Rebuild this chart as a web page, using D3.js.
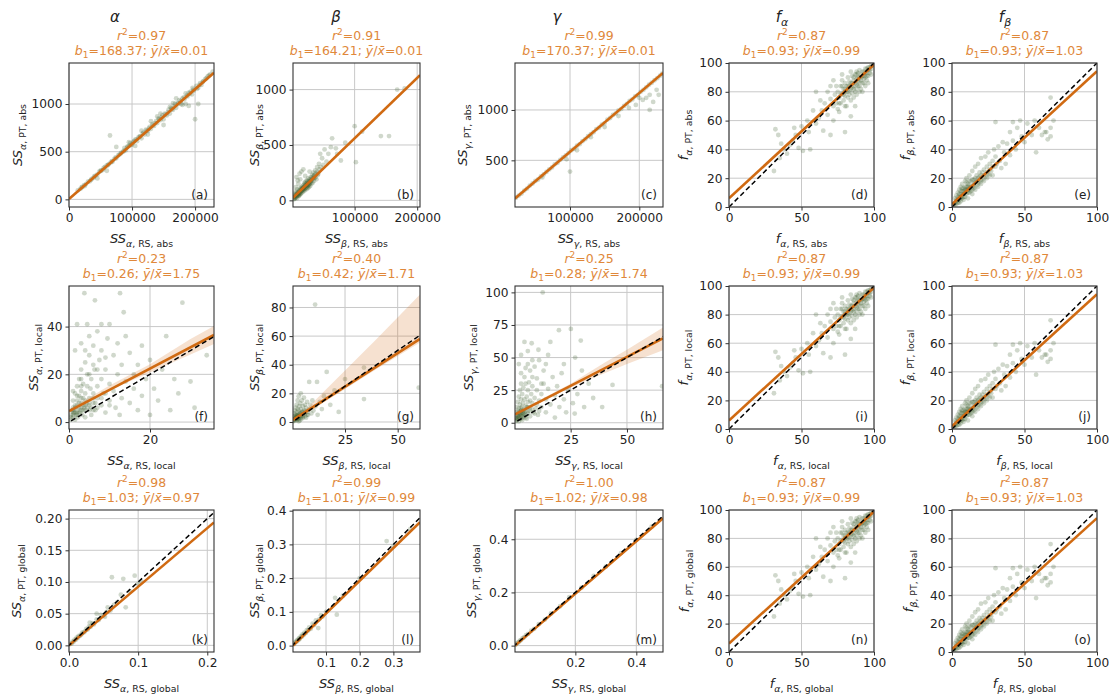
<!DOCTYPE html>
<html>
<head>
<meta charset="utf-8">
<script src="https://cdn.jsdelivr.net/npm/d3@7"></script>
<style>
  body { margin: 0; background: #fff; }
  text { font-family: "DejaVu Sans", sans-serif; }
</style>
</head>
<body>
<div id="chart"></div>
<script>
// ---- data ----
const ptsAlphaAbs = [[14000,95],[18000,110],[21000,130],[24000,150],[27000,160],[30000,185],[33000,190],[36000,215],[39000,225],[42000,250],[45000,262],[48000,290],[51000,300],[54000,310],[57000,340],[60000,355],[63000,370],[65000,670],[66000,385],[69000,395],[72000,425],[75000,430],[78000,460],[80000,470],[83000,490],[86000,500],[88000,540],[90000,515],[92000,545],[95000,560],[97000,590],[100000,575],[102000,600],[105000,625],[108000,610],[110000,650],[113000,660],[115000,640],[118000,700],[120000,680],[122000,730],[125000,715],[128000,760],[130000,740],[132000,790],[135000,770],[138000,820],[140000,800],[142000,850],[145000,830],[148000,880],[150000,840],[152000,900],[155000,880],[158000,940],[160000,900],[162000,960],[165000,940],[168000,1000],[170000,960],[172000,1010],[175000,1040],[178000,1000],[180000,1060],[183000,1050],[185000,1110],[188000,1080],[190000,1120],[193000,1130],[196000,1170],[198000,1140],[200000,840],[202000,1190],[205000,1170],[208000,1220],[210000,1200],[213000,1240],[216000,1260],[220000,1290],[224000,1310],[228000,1340],[75000,550],[130000,820],[170000,1060],[190000,980],[205000,1000],[150000,780],[60000,300],[45000,220],[95000,600],[115000,720],[140000,870],[160000,970],[180000,990],
  [20000,125],[25000,140],[35000,205],[40000,240],[50000,300],[55000,330],[62000,360],[68000,400],[74000,440],[82000,480],[87000,510],[93000,555],[98000,570],[103000,610],[107000,630],[112000,660],[117000,690],[123000,720],[127000,745],[133000,775],[137000,800],[143000,840],[147000,860],[153000,890],[157000,915],[163000,945],[167000,975],[173000,1000],[177000,1030],[182000,1070],[187000,1090],[192000,1110],[197000,1150],[203000,1160],[207000,1200],[212000,1230],[218000,1270],[222000,1300],[185000,1000],[195000,1100],[165000,1010],[145000,900],[125000,680],[105000,560]];
const ptsBetaAbs = [[3000,10],[4000,30],[5000,20],[6000,45],[7000,35],[8000,60],[8000,20],[9000,50],[10000,75],[10000,40],[11000,60],[12000,90],[12000,50],[13000,70],[14000,100],[14000,60],[15000,85],[15000,120],[16000,70],[16000,105],[17000,130],[17000,90],[18000,80],[18000,115],[19000,140],[19000,100],[20000,120],[20000,160],[20000,90],[21000,130],[22000,110],[22000,170],[23000,140],[23000,100],[24000,180],[24000,130],[25000,150],[25000,110],[26000,200],[26000,140],[27000,160],[27000,120],[28000,190],[28000,150],[29000,130],[30000,210],[30000,170],[31000,150],[32000,230],[32000,190],[33000,160],[34000,250],[34000,200],[35000,175],[36000,230],[37000,270],[38000,210],[39000,190],[40000,260],[40000,300],[42000,240],[43000,330],[44000,280],[45000,420],[46000,300],[48000,380],[50000,320],[52000,460],[55000,350],[58000,420],[62000,480],[64000,560],[70000,470],[72000,420],[78000,360],[85000,520],[100000,670],[102000,345],[112000,620],[142000,580],[155000,580],[168000,1000],[180000,1010],[7000,210],[9000,180],[12000,240],[15000,260],[18000,280],[6000,120],[10000,150],[13000,190],[21000,220],[28000,260],
  [4000,15],[5000,40],[6000,25],[7000,55],[8000,40],[9000,70],[10000,55],[11000,85],[11000,40],[12000,70],[13000,55],[13000,110],[14000,80],[15000,100],[16000,90],[17000,110],[18000,100],[19000,120],[20000,105],[21000,150],[22000,140],[23000,120],[24000,160],[25000,130],[26000,170],[27000,140],[28000,170],[29000,160],[30000,190],[31000,180],[33000,210],[35000,220],[36000,200],[38000,240],[41000,230],[5000,60],[6000,80],[8000,100],[4000,50],[3000,25]];
const ptsGammaAbs = [[22000,130],[26000,150],[30000,170],[34000,200],[38000,220],[42000,250],[46000,270],[50000,295],[54000,310],[58000,340],[62000,360],[66000,385],[70000,410],[74000,430],[78000,460],[82000,475],[86000,505],[90000,530],[94000,550],[98000,575],[100000,389],[102000,600],[106000,615],[110000,645],[114000,660],[118000,690],[122000,710],[126000,740],[130000,760],[134000,780],[138000,810],[142000,825],[146000,855],[150000,870],[154000,905],[158000,920],[162000,950],[166000,965],[170000,995],[174000,1010],[178000,1040],[182000,1060],[186000,1090],[190000,1105],[194000,1135],[198000,1150],[202000,1180],[206000,1200],[210000,1225],[214000,1250],[218000,1270],[222000,1295],[226000,1315],[230000,1340],[233000,1360],[195000,1050],[205000,1100],[210000,1120],[215000,1150],[220000,1080],[225000,1200],[228000,1150],[215000,1000],[200000,1120],[185000,1020],[170000,940],[150000,830],[130000,730],[110000,600],[95000,510],[60000,330]];
const ptsFAlpha = [[32,54],[34,50],[36,44],[38,40],[40,37],[42,43],[44,46],[46,50],[48,41],[51,39],[31,25],[35,34],[45,55],[50,56],[55,52],[58,67],[60,58],[62,62],[64,67],[65,53],[66,72],[68,64],[70,50],[70,75],[72,60],[80,52],[84,63],[72,70],[73,78],[74,72],[75,80],[75,68],[76,76],[77,84],[77,72],[78,79],[78,88],[79,74],[79,82],[80,77],[80,86],[81,80],[81,70],[82,84],[82,90],[83,78],[83,87],[84,82],[84,74],[85,86],[85,91],[85,79],[86,84],[86,88],[87,80],[87,92],[88,85],[88,89],[88,78],[89,87],[89,93],[90,84],[90,90],[90,95],[91,88],[91,82],[92,91],[92,86],[93,94],[93,89],[94,90],[94,96],[95,93],[95,88],[96,95],[96,91],[97,97],[97,93],[98,96],[99,98],[86,76],[80,70],[76,66],[74,84],[78,92],[82,76],[84,94],[87,70],[92,80],[94,84],[96,86],[98,92],[68,80],[70,84],[72,88],[63,74],[60,80],[54,60],[56,40],[83,84],[86,90],[89,84],[91,92],[93,91],[95,96],[88,94],[80,82],
  [80,80],[82,80],[84,86],[86,82],[88,82],[88,92],[90,87],[90,80],[91,90],[92,94],[93,86],[94,93],[95,91],[96,97],[97,95],[98,98],[85,83],[83,81],[81,84],[79,78],[77,78],[76,72],[78,84],[87,86],[89,90]];
const ptsFBeta = [[1,1],[2,3],[2,6],[3,2],[3,8],[4,5],[4,10],[5,3],[5,7],[5,12],[6,4],[6,9],[6,14],[7,6],[7,11],[7,16],[8,5],[8,9],[8,13],[9,7],[9,12],[9,18],[10,9],[10,14],[10,20],[11,6],[11,12],[11,16],[12,10],[12,15],[12,22],[13,11],[13,18],[14,9],[14,14],[14,25],[15,13],[15,19],[16,12],[16,17],[16,28],[17,15],[17,22],[18,14],[18,20],[18,30],[19,17],[19,24],[20,16],[20,22],[20,34],[21,19],[22,18],[22,26],[23,21],[23,35],[24,20],[24,28],[25,23],[25,38],[26,22],[26,30],[27,25],[28,32],[28,22],[29,40],[30,28],[30,35],[31,30],[32,42],[33,32],[34,27],[35,45],[36,38],[37,30],[38,44],[40,36],[40,52],[42,46],[44,40],[45,55],[47,60],[48,49],[50,45],[52,58],[55,50],[57,60],[60,55],[62,50],[65,52],[66,47],[70,60],[68,55],[58,38],[30,59],[42,59],[64,52],[68,49],[68,76],[3,4],[4,3],[6,7],[8,7],[10,11],[12,12],[15,16],
  [2,2],[3,5],[4,7],[5,5],[5,9],[6,6],[6,11],[7,8],[7,13],[8,11],[9,10],[9,14],[10,12],[10,17],[11,10],[11,14],[12,13],[12,18],[13,14],[14,12],[14,19],[15,15],[16,20],[17,18],[18,17],[19,21],[20,19],[21,24],[22,22],[24,24],[26,26],[28,28]];
const ptsAlphaLocal = [[0.5,1],[0.5,3],[0.8,5],[1,2],[1,6],[1,9],[1.2,4],[1.5,1],[1.5,7],[1.5,12],[1.8,3],[2,5],[2,9],[2,15],[2.2,2],[2.5,6],[2.5,11],[2.5,18],[2.8,4],[3,8],[3,13],[3,22],[3.3,3],[3.5,10],[3.5,16],[3.8,6],[4,12],[4,25],[4,2],[4.3,8],[4.5,15],[4.5,20],[5,5],[5,10],[5,28],[5.3,14],[5.5,3],[5.5,18],[6,8],[6,12],[6,32],[6.3,22],[6.5,5],[7,15],[7,10],[7,38],[7.5,26],[8,7],[8,18],[8,30],[8.5,12],[9,4],[9,22],[9.5,35],[10,9],[10,16],[10,41],[11,13],[11,28],[11.5,6],[12,20],[12,33],[12.5,3],[13,10],[13,24],[13.5,46],[14,17],[14,36],[15,8],[15,29],[16,14],[16,20],[17,24],[17,5],[18,11],[18,32],[19,18],[20,3],[20,26],[21,14],[22,9],[23,22],[24,36],[25,5],[26,18],[27,12],[28,50],[30,17],[31,6],[34,28],[3.8,54],[12.6,54],[6.4,51],[2,41],[4.5,41],[8,41],[5,36],[1.5,30],[3,33],[1,4],[2,7],[3,5],[4,9],[5,7],[6,10],[2,11],[3,15],[1,13],
  [0.5,2],[1,3],[1,5],[1.5,4],[1.5,6],[2,3],[2,4],[2.5,4],[2.5,8],[3,6],[3,10],[3.5,5],[3.5,7],[4,5],[4,7],[4.5,6],[5,8],[5.5,6],[6,5],[6.5,8],[7,6],[8,10],[9,12],[10,7],[3,18],[5,20],[7,22],[9,27],[4,30],[6,24]];
const ptsBetaLocal = [[0.5,0.5],[0.6,2],[0.8,4],[1,1],[1,3],[1,6],[1.2,8],[1.5,2],[1.5,5],[1.5,10],[1.8,3],[2,1],[2,7],[2,12],[2.3,4],[2.5,2],[2.5,9],[2.5,15],[2.8,5],[3,3],[3,8],[3,18],[3.3,11],[3.5,1],[3.5,6],[3.8,13],[4,4],[4,9],[4,20],[4.3,2],[4.5,7],[4.5,15],[5,5],[5,11],[5,3],[5.5,8],[5.5,17],[6,6],[6,12],[6.5,3],[6.5,10],[7,7],[7,14],[7.5,5],[8,9],[8,28],[8.5,12],[9,6],[9.5,15],[10,8],[10.8,82],[11,11],[11.7,28],[12,5],[13,14],[14,9],[15,18],[16.3,35],[18,12],[20,22],[22,7],[34,38],[34,16],[60,24],[25,30],[3,0.5],[0.3,1],[1,2],[2,3],[3,4],[4,6],[2,5],
  [1,2],[1.5,3],[2,2],[2,4],[2.5,3],[3,2],[3,5],[3.5,4],[4,3],[4,6],[5,4],[5,7],[6,4],[6,8],[7,5]];
const ptsGammaLocal = [[0.5,1],[0.5,4],[0.8,8],[1,2],[1,6],[1,12],[1.3,3],[1.5,9],[1.5,16],[1.8,5],[2,1],[2,11],[2,20],[2.3,7],[2.5,3],[2.5,14],[2.5,25],[2.8,9],[3,5],[3,18],[3,30],[3.3,12],[3.5,2],[3.5,8],[3.5,22],[3.8,15],[4,4],[4,27],[4.3,10],[4.5,18],[4.5,35],[5,6],[5,13],[5,42],[5.5,20],[5.5,3],[6,9],[6,25],[6,16],[6.5,31],[7,12],[7,5],[7,40],[7.5,22],[8,15],[8,28],[8.5,8],[9,19],[9,43],[9.5,11],[10,25],[10,34],[10.5,6],[11,17],[11,48],[12,22],[12,12],[12.6,100],[13,30],[13,40],[14,8],[14,18],[15,26],[15,52],[16,14],[17,35],[18,21],[18,4],[19,28],[19.8,71],[20,12],[21,38],[22,18],[23,8],[24,25],[25.1,72],[26,15],[26.8,7],[28,22],[29.5,63],[30,40],[31,12],[33,30],[35,19],[39,12],[43.6,29],[4.5,62],[7.7,61],[10.7,56],[2,45],[3,52],[6,55],[8,48],[14,45],[16,62],[22,45],[27,50],[65.6,28],[1,4],[2,6],[3,9],[4,7],
  [1,3],[1.5,5],[2,4],[2,8],[2.5,6],[3,3],[3,7],[3,11],[3.5,5],[4,6],[4,9],[4.5,7],[5,4],[5,9],[5.5,12],[6,7],[6,12],[7,9],[7,17],[8,10],[9,7],[10,14],[11,9],[3,38],[5,30],[8,35],[6,45],[12,30]];
const ptsAlphaGlobal = [[0.002,0.002],[0.004,0.003],[0.005,0.006],[0.007,0.006],[0.008,0.009],[0.01,0.009],[0.011,0.012],[0.013,0.012],[0.014,0.015],[0.016,0.015],[0.018,0.017],[0.019,0.02],[0.021,0.02],[0.023,0.022],[0.025,0.026],[0.027,0.025],[0.029,0.03],[0.031,0.029],[0.034,0.035],[0.036,0.033],[0.04,0.041],[0.043,0.04],[0.046,0.048],[0.05,0.047],[0.0545,0.0527],[0.056,0.06],[0.06,0.055],[0.062,0.1075],[0.065,0.064],[0.07,0.068],[0.075,0.08],[0.0785,0.105],[0.082,0.06],[0.088,0.085],[0.095,0.11],[0.1,0.097],[0.105,0.1],[0.04,0.05],[0.052,0.045],[0.03,0.036]];
const ptsBetaGlobal = [[0.005,0.005],[0.008,0.009],[0.01,0.012],[0.013,0.012],[0.015,0.017],[0.018,0.016],[0.02,0.022],[0.022,0.02],[0.025,0.027],[0.028,0.026],[0.03,0.033],[0.033,0.031],[0.036,0.038],[0.04,0.037],[0.043,0.046],[0.047,0.045],[0.05,0.054],[0.055,0.05],[0.06,0.065],[0.065,0.061],[0.07,0.075],[0.077,0.052],[0.08,0.078],[0.085,0.09],[0.09,0.086],[0.1,0.1],[0.127,0.1415],[0.132,0.0917],[0.15,0.148],[0.2,0.2],[0.28,0.31],[0.3,0.295],[0.35,0.345]];
const ptsGammaGlobal = [[0.003,0.003],[0.006,0.006],[0.01,0.01],[0.014,0.013],[0.018,0.019],[0.022,0.021],[0.027,0.028],[0.032,0.031],[0.038,0.039],[0.045,0.044],[0.055,0.056],[0.065,0.063],[0.08,0.081],[0.1,0.098],[0.12,0.121],[0.15,0.148],[0.18,0.182],[0.22,0.218],[0.26,0.262],[0.3,0.297],[0.35,0.348],[0.4,0.398],[0.45,0.447]];

// regression line end points, per panel (a)..(o)
const fitLines = [
  [[0, 5], [230000, 1327]],
  [[1500, 24], [204500, 1131]],
  [[20600, 121], [234200, 1368]],
  [[0, 6], [100, 99]],
  [[0, 1.9], [100, 94.3]],
  [[0, 4.6], [35.8, 36.5]],
  [[0.3, 1.5], [60.6, 58]],
  [[0.3, 6.4], [66, 64.7]],
  [[0, 6], [100, 99]],
  [[0, 1.9], [100, 94.3]],
  [[0, 0], [0.2097, 0.194]],
  [[0.002, 0], [0.379, 0.366]],
  [[0.002, 0], [0.4875, 0.479]],
  [[0, 6], [100, 99]],
  [[0, 1.9], [100, 94.3]]
];
// confidence bands [x, lower, upper] where visible
const bandF = [[0, 3.8, 5.4], [5, 8.9, 10.3], [10, 13.3, 15.3], [20, 20.8, 24.2], [30, 28.3, 34.8], [35.8, 32.7, 40.2]];
const bandG = [[0.3, 0.8, 2.2], [5, 4.5, 7], [10, 9, 14], [25, 23, 36], [40, 37, 58], [60.6, 55.5, 89]];
const bandH = [[0.3, 5.6, 7.2], [10, 14.3, 16.3], [25, 27, 30], [40, 38, 46], [50, 45, 56], [66, 55.7, 73.1]];

const r2Vals = ["0.97", "0.91", "0.99", "0.87", "0.87", "0.23", "0.40", "0.25", "0.87", "0.87", "0.98", "0.99", "1.00", "0.87", "0.87"];
const b1Vals = ["168.37", "164.21", "170.37", "0.93", "0.93", "0.26", "0.42", "0.28", "0.93", "0.93", "1.03", "1.01", "1.02", "0.93", "0.93"];
const ratioVals = ["0.01", "0.01", "0.01", "0.99", "1.03", "1.75", "1.71", "1.74", "0.99", "1.03", "0.97", "0.99", "0.98", "0.99", "1.03"];
const panelLetters = ["a", "b", "c", "d", "e", "f", "g", "h", "i", "j", "k", "l", "m", "n", "o"];

const colHeads = [["α", ""], ["β", ""], ["γ", ""], ["f", "α"], ["f", "β"]];
const colSymbols = [["SS", "α"], ["SS", "β"], ["SS", "γ"], ["f", "α"], ["f", "β"]];
const rowKinds = ["abs", "local", "global"];

// ---- layout ----
const svgWidth = 1114;
const svgHeight = 697;
const colX = [[69, 214], [293, 420], [515, 663], [729, 874], [952, 1097]];
const rowY = [[63, 207], [286, 429], [510, 652]];
const yLabelGap = [[47, 34, 48, 41, 42], [31, 34, 42, 41, 42], [48, 34, 39, 40, 39]];
const headX = [115, 336, 557, 782, 1005];

const titleColor = "#e0883a";
const lineColor = "#d06a12";
const pointColor = "#3a5e28";

const fPanel = {xd: [0, 100], yd: [0, 100], xt: [0, 50, 100], yt: [0, 20, 40, 60, 80, 100], xf: "d", yf: "d", pts: null};

const panels = [
  {xd: [0, 230000], yd: [-80, 1430], xt: [0, 100000, 200000], yt: [0, 500, 1000], xf: "d", yf: "d", pts: ptsAlphaAbs, diag: false},
  {xd: [1500, 204500], yd: [-60, 1240], xt: [100000, 200000], yt: [0, 500, 1000], xf: "d", yf: "d", pts: ptsBetaAbs, diag: false},
  {xd: [20600, 234200], yd: [37, 1466], xt: [100000, 200000], yt: [500, 1000], xf: "d", yf: "d", pts: ptsGammaAbs, diag: false},
  {...fPanel, pts: ptsFAlpha, diag: true},
  {...fPanel, pts: ptsFBeta, diag: true},
  {xd: [0, 35.8], yd: [-2.9, 57], xt: [0, 20], yt: [0, 20, 40], xf: "d", yf: "d", pts: ptsAlphaLocal, diag: true, band: bandF},
  {xd: [0.3, 60.6], yd: [-4.9, 95], xt: [25, 50], yt: [0, 20, 40, 60, 80], xf: "d", yf: "d", pts: ptsBetaLocal, diag: true, band: bandG},
  {xd: [0.3, 66], yd: [-4.8, 104.9], xt: [25, 50], yt: [0, 25, 50, 75, 100], xf: "d", yf: "d", pts: ptsGammaLocal, diag: true, band: bandH},
  {...fPanel, pts: ptsFAlpha, diag: true},
  {...fPanel, pts: ptsFBeta, diag: true},
  {xd: [0, 0.2097], yd: [-0.0105, 0.2136], xt: [0, 0.1, 0.2], yt: [0, 0.05, 0.1, 0.15, 0.2], xf: ".1f", yf: ".2f", pts: ptsAlphaGlobal, diag: true},
  {xd: [0.002, 0.379], yd: [-0.019, 0.402], xt: [0.1, 0.2, 0.3], yt: [0, 0.1, 0.2, 0.3, 0.4], xf: ".1f", yf: ".1f", pts: ptsBetaGlobal, diag: true},
  {xd: [0.002, 0.4875], yd: [-0.024, 0.51], xt: [0.2, 0.4], yt: [0, 0.2, 0.4], xf: ".1f", yf: ".1f", pts: ptsGammaGlobal, diag: true},
  {...fPanel, pts: ptsFAlpha, diag: true},
  {...fPanel, pts: ptsFBeta, diag: true}
];

const svg = d3.select("#chart").append("svg")
  .attr("width", svgWidth)
  .attr("height", svgHeight);

// math style label: base (italic), subscript symbol (italic) + ", XX, kind"
function mathLabel(textSel, base, sym, rest, size) {
  const sub = size * 0.72;
  textSel.attr("font-size", size).attr("fill", "#222");
  textSel.append("tspan").attr("font-style", "italic").text(base);
  textSel.append("tspan").attr("font-style", "italic").attr("font-size", sub).attr("dy", size * 0.28).text(sym);
  textSel.append("tspan").attr("font-size", sub).text(rest);
}

// column headers
colHeads.forEach((h, i) => {
  const t = svg.append("text")
    .attr("x", headX[i]).attr("y", 22)
    .attr("text-anchor", "middle")
    .attr("font-size", 15).attr("fill", "#222");
  t.append("tspan").attr("font-style", "italic").text(h[0]);
  if (h[1]) t.append("tspan").attr("font-style", "italic").attr("font-size", 11).attr("dy", 4).text(h[1]);
});

panels.forEach((p, i) => {
  const row = Math.floor(i / 5);
  const col = i % 5;
  const [x0, x1] = colX[col];
  const [y0, y1] = rowY[row];
  const w = x1 - x0, h = y1 - y0;

  const x = d3.scaleLinear().domain(p.xd).range([0, w]);
  const y = d3.scaleLinear().domain(p.yd).range([h, 0]);

  const g = svg.append("g").attr("transform", `translate(${x0}, ${y0})`);
  const clipId = "clip" + i;
  g.append("clipPath").attr("id", clipId)
    .append("rect").attr("width", w).attr("height", h);

  // grid
  g.append("g").selectAll("line").data(p.xt).join("line")
    .attr("x1", d => x(d)).attr("x2", d => x(d))
    .attr("y1", 0).attr("y2", h)
    .attr("stroke", "#c8c8c8").attr("stroke-width", 1);
  g.append("g").selectAll("line").data(p.yt).join("line")
    .attr("y1", d => y(d)).attr("y2", d => y(d))
    .attr("x1", 0).attr("x2", w)
    .attr("stroke", "#c8c8c8").attr("stroke-width", 1);

  const plot = g.append("g").attr("clip-path", `url(#${clipId})`);

  // scatter
  plot.append("g").selectAll("circle").data(p.pts).join("circle")
    .attr("cx", d => x(d[0]))
    .attr("cy", d => y(d[1]))
    .attr("r", 2.4)
    .attr("fill", pointColor)
    .attr("fill-opacity", 0.24);

  // confidence band
  if (p.band) {
    const area = d3.area()
      .x(d => x(d[0]))
      .y0(d => y(d[1]))
      .y1(d => y(d[2]));
    plot.append("path").datum(p.band)
      .attr("d", area)
      .attr("fill", lineColor)
      .attr("fill-opacity", 0.2);
  }

  // regression line
  const line = d3.line().x(d => x(d[0])).y(d => y(d[1]));
  plot.append("path").datum(fitLines[i])
    .attr("d", line)
    .attr("fill", "none")
    .attr("stroke", lineColor)
    .attr("stroke-width", 2.6);

  // 1:1 line
  if (p.diag) {
    const lo = Math.min(p.xd[0], p.yd[0]);
    const hi = Math.max(p.xd[1], p.yd[1]);
    plot.append("path").datum([[lo, lo], [hi, hi]])
      .attr("d", line)
      .attr("fill", "none")
      .attr("stroke", "#000")
      .attr("stroke-width", 1.5)
      .attr("stroke-dasharray", "5,3");
  }

  // frame
  g.append("rect").attr("width", w).attr("height", h)
    .attr("fill", "none").attr("stroke", "#333").attr("stroke-width", 1.1);

  // axes
  const xAxis = g.append("g")
    .attr("transform", `translate(0, ${h})`)
    .call(d3.axisBottom(x).tickValues(p.xt).tickFormat(d3.format(p.xf)).tickSize(3.5).tickPadding(3));
  const yAxis = g.append("g")
    .call(d3.axisLeft(y).tickValues(p.yt).tickFormat(d3.format(p.yf)).tickSize(3.5).tickPadding(3));
  [xAxis, yAxis].forEach(a => {
    a.select(".domain").remove();
    a.selectAll("line").attr("stroke", "#333");
    a.selectAll("text")
      .attr("font-family", "DejaVu Sans, sans-serif")
      .attr("font-size", 12.2)
      .attr("fill", "#222");
  });

  // panel letter
  g.append("text")
    .attr("x", w - 6).attr("y", h - 8)
    .attr("text-anchor", "end")
    .attr("font-size", 12).attr("fill", "#222")
    .text(`(${panelLetters[i]})`);

  // titles
  const t1 = g.append("text")
    .attr("x", w / 2).attr("y", -23)
    .attr("text-anchor", "middle")
    .attr("font-size", 12.5).attr("fill", titleColor);
  t1.append("tspan").attr("font-style", "italic").text("r");
  t1.append("tspan").attr("font-size", 9).attr("dy", -5).text("2");
  t1.append("tspan").attr("dy", 5).text("=" + r2Vals[i]);

  const t2 = g.append("text")
    .attr("x", w / 2).attr("y", -8)
    .attr("text-anchor", "middle")
    .attr("font-size", 12.5).attr("fill", titleColor);
  t2.append("tspan").attr("font-style", "italic").text("b");
  t2.append("tspan").attr("font-size", 9).attr("dy", 3).text("1");
  t2.append("tspan").attr("dy", -3).text("=" + b1Vals[i] + "; ");
  t2.append("tspan").attr("font-style", "italic").text("y\u0304");
  t2.append("tspan").text("/");
  t2.append("tspan").attr("font-style", "italic").text("x\u0304");
  t2.append("tspan").text("=" + ratioVals[i]);

  // axis labels
  const [base, sym] = colSymbols[col];
  const xl = g.append("text")
    .attr("x", w / 2).attr("y", h + 36)
    .attr("text-anchor", "middle");
  mathLabel(xl, base, sym, ", RS, " + rowKinds[row], 13);

  const yl = g.append("text")
    .attr("transform", `translate(${-yLabelGap[row][col]}, ${h / 2}) rotate(-90)`)
    .attr("text-anchor", "middle");
  mathLabel(yl, base, sym, ", PT, " + rowKinds[row], 13);
});
</script>
</body>
</html>
